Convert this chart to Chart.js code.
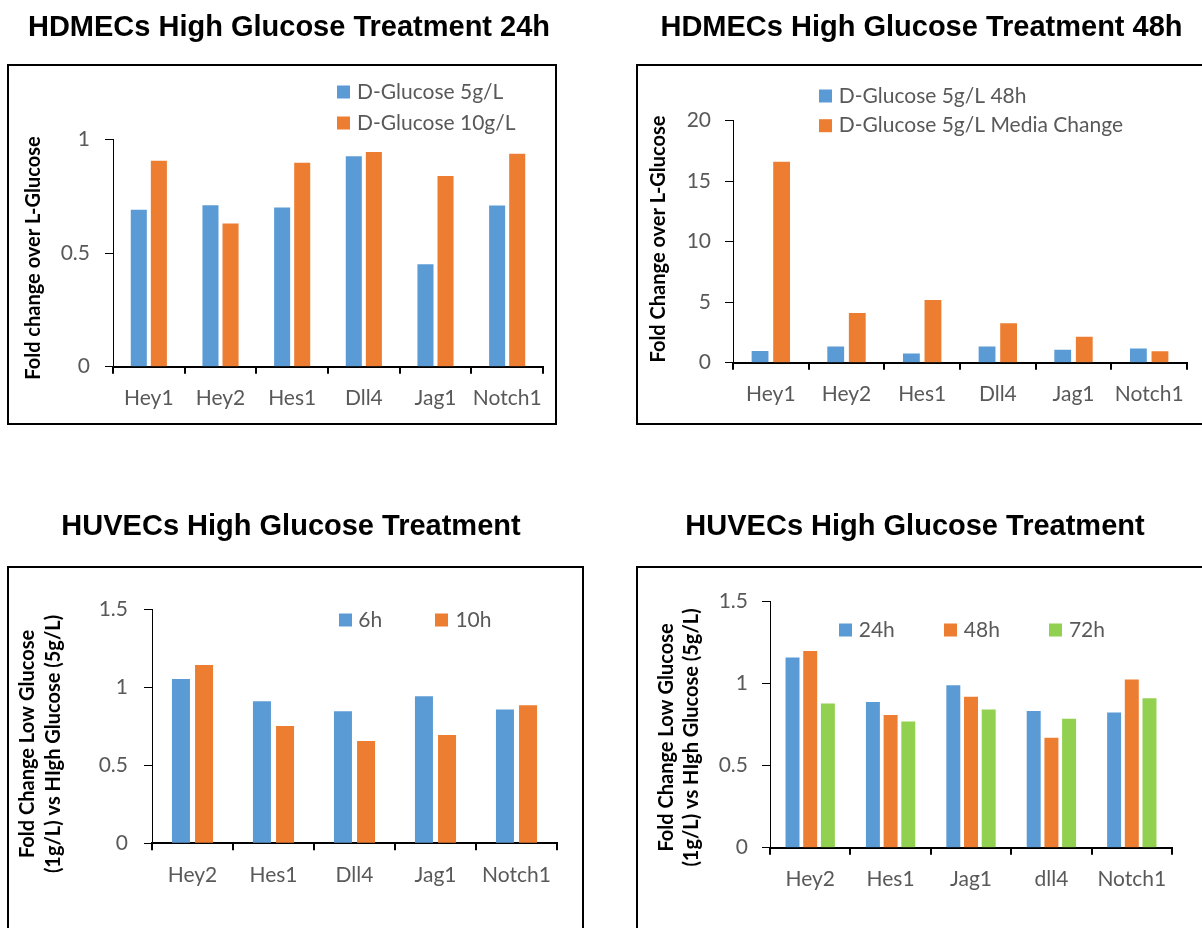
<!DOCTYPE html>
<html>
<head>
<meta charset="utf-8">
<script src="https://cdn.jsdelivr.net/npm/chart.js@4.4.1/dist/chart.umd.min.js"></script>
<style>
  html, body { margin: 0; padding: 0; background: #fff; }
  body { width: 1202px; height: 928px; position: relative; overflow: hidden; }
  canvas { position: absolute; }
</style>
</head>
<body>
<canvas id="hdmec24" width="601" height="464" style="left:0;top:0"></canvas>
<canvas id="hdmec48" width="601" height="464" style="left:601px;top:0"></canvas>
<canvas id="huvecShort" width="601" height="464" style="left:0;top:464px"></canvas>
<canvas id="huvecLong" width="601" height="464" style="left:601px;top:464px"></canvas>
<script>
// ---- data ----
const hdmecGenes = ['Hey1', 'Hey2', 'Hes1', 'Dll4', 'Jag1', 'Notch1'];
const hdmec24Glucose5 = [0.69, 0.71, 0.70, 0.926, 0.451, 0.709];
const hdmec24Glucose10 = [0.906, 0.63, 0.897, 0.944, 0.839, 0.937];
const hdmec24Ticks = [0, 0.5, 1];
const hdmec24TickLabels = ['0', '0.5', '1'];

const hdmec48Glucose5 = [0.97, 1.33, 0.77, 1.33, 1.06, 1.17];
const hdmec48MediaChange = [16.6, 4.11, 5.19, 3.26, 2.15, 0.95];
const hdmec48Ticks = [0, 5, 10, 15, 20];
const hdmec48TickLabels = ['0', '5', '10', '15', '20'];

const huvecShortGenes = ['Hey2', 'Hes1', 'Dll4', 'Jag1', 'Notch1'];
const huvec6h = [1.053, 0.910, 0.846, 0.942, 0.857];
const huvec10h = [1.143, 0.752, 0.656, 0.694, 0.885];

const huvecLongGenes = ['Hey2', 'Hes1', 'Jag1', 'dll4', 'Notch1'];
const huvec24h = [1.16, 0.888, 0.990, 0.833, 0.825];
const huvec48h = [1.20, 0.809, 0.921, 0.670, 1.026];
const huvec72h = [0.880, 0.770, 0.843, 0.786, 0.912];
const huvecTicks = [0, 0.5, 1, 1.5];
const huvecTickLabels = ['0', '0.5', '1', '1.5'];

// ---- styling ----
const BLUE = '#5B9BD5';
const ORANGE = '#ED7D31';
const GREEN = '#92D050';
const TICK_TEXT = '#595959';
const LABEL_FONT = 'Lato, "Open Sans", sans-serif';
const LABEL_SIZE = 21;

// Frame, heading, rotated axis title and legend for each panel
const panelDecor = {
  id: 'panelDecor',
  afterDraw(chart, args, o) {
    const ctx = chart.ctx;
    ctx.save();
    ctx.strokeStyle = '#000';
    ctx.lineWidth = 2;
    ctx.strokeRect(o.frame[0], o.frame[1], o.frame[2], o.frame[3]);

    ctx.fillStyle = '#000';
    ctx.font = 'bold 29px "Liberation Sans", Arial, sans-serif';
    ctx.textAlign = 'center';
    ctx.textBaseline = 'alphabetic';
    ctx.fillText(o.heading, o.headingPos[0], o.headingPos[1]);

    ctx.save();
    ctx.translate(o.axisTitlePos[0], o.axisTitlePos[1]);
    ctx.rotate(-Math.PI / 2);
    ctx.font = 'bold 20px ' + LABEL_FONT;
    ctx.textBaseline = 'middle';
    const n = o.axisTitle.length;
    o.axisTitle.forEach((line, i) => {
      ctx.fillText(line, 0, (i - (n - 1) / 2) * o.axisTitleGap);
    });
    ctx.restore();

    ctx.font = LABEL_SIZE + 'px ' + LABEL_FONT;
    ctx.textAlign = 'left';
    ctx.textBaseline = 'middle';
    chart.data.datasets.forEach((ds, i) => {
      const [x, y, tx] = o.legend[i];
      ctx.fillStyle = ds.backgroundColor;
      ctx.fillRect(x, y - 6.5, 13, 13);
      ctx.fillStyle = TICK_TEXT;
      ctx.fillText(ds.label, tx, y);
    });
    ctx.restore();
  }
};

function buildPanel(id, p) {
  const top = p.ticks[p.ticks.length - 1];
  return new Chart(document.getElementById(id), {
    type: 'bar',
    data: {
      labels: p.labels,
      datasets: p.series.map(s => ({
        label: s.label,
        data: s.data,
        backgroundColor: s.color,
        categoryPercentage: p.catPct,
        barPercentage: p.barPct
      }))
    },
    options: {
      responsive: false,
      animation: false,
      devicePixelRatio: 1,
      layout: { padding: { left: 0, top: p.area.top, right: 601 - p.area.right, bottom: 0 } },
      plugins: {
        legend: { display: false },
        tooltip: { enabled: false },
        panelDecor: p.decor
      },
      scales: {
        x: {
          grid: { drawOnChartArea: false, drawTicks: true, tickLength: 7, color: '#000', lineWidth: 2, offset: true },
          border: { display: true, color: '#000', width: 2 },
          ticks: { color: TICK_TEXT, font: { family: LABEL_FONT, size: LABEL_SIZE }, padding: 12, maxRotation: 0, autoSkip: false },
          afterFit(s) { s.height = 464 - p.area.bottom; }
        },
        y: {
          min: 0,
          max: top,
          afterBuildTicks(s) { s.ticks = p.ticks.map(v => ({ value: v })); },
          grid: { drawOnChartArea: false, drawTicks: true, tickLength: 8, color: '#000', lineWidth: 1 },
          border: { display: true, color: '#000', width: 1 },
          ticks: {
            color: TICK_TEXT,
            font: { family: LABEL_FONT, size: LABEL_SIZE },
            padding: p.tickPad,
            callback: (value, index) => p.tickLabels[index]
          },
          afterFit(s) { s.width = p.area.left; }
        }
      }
    },
    plugins: [panelDecor]
  });
}

function drawAll() {
  buildPanel('hdmec24', {
    labels: hdmecGenes,
    series: [
      { label: 'D-Glucose 5g/L', data: hdmec24Glucose5, color: BLUE },
      { label: 'D-Glucose 10g/L', data: hdmec24Glucose10, color: ORANGE }
    ],
    ticks: hdmec24Ticks,
    tickLabels: hdmec24TickLabels,
    catPct: 0.56, barPct: 0.8,
    area: { left: 113, right: 543, top: 139.3, bottom: 366.7 },
    tickPad: 15,
    decor: {
      frame: [8, 65, 548, 359],
      heading: 'HDMECs High Glucose Treatment 24h',
      headingPos: [289, 36],
      axisTitle: ['Fold change over L-Glucose'],
      axisTitlePos: [34, 258],
      axisTitleGap: 25,
      legend: [[337, 92, 357], [337, 123, 357]]
    }
  });

  buildPanel('hdmec48', {
    labels: hdmecGenes,
    series: [
      { label: 'D-Glucose 5g/L 48h', data: hdmec48Glucose5, color: BLUE },
      { label: 'D-Glucose 5g/L Media Change', data: hdmec48MediaChange, color: ORANGE }
    ],
    ticks: hdmec48Ticks,
    tickLabels: hdmec48TickLabels,
    catPct: 0.57, barPct: 0.78,
    area: { left: 132, right: 586, top: 120.7, bottom: 362.7 },
    tickPad: 14,
    decor: {
      frame: [36, 65, 600, 359],
      heading: 'HDMECs High Glucose Treatment 48h',
      headingPos: [320.5, 36],
      axisTitle: ['Fold Change over L-Glucose'],
      axisTitlePos: [58, 239],
      axisTitleGap: 25,
      legend: [[218, 96, 237.7], [218, 125.7, 237.7]]
    }
  });

  buildPanel('huvecShort', {
    labels: huvecShortGenes,
    series: [
      { label: '6h', data: huvec6h, color: BLUE },
      { label: '10h', data: huvec10h, color: ORANGE }
    ],
    ticks: huvecTicks,
    tickLabels: huvecTickLabels,
    catPct: 0.57, barPct: 0.78,
    area: { left: 152, right: 557, top: 145.3, bottom: 379.3 },
    tickPad: 16,
    decor: {
      frame: [8, 103, 575, 380],
      heading: 'HUVECs High Glucose Treatment',
      headingPos: [291, 71],
      axisTitle: ['Fold Change Low Glucose', '(1g/L) vs HIgh Glucose (5g/L)'],
      axisTitlePos: [40.8, 280],
      axisTitleGap: 26,
      legend: [[339, 156, 358.3], [435, 156, 455.4]]
    }
  });

  buildPanel('huvecLong', {
    labels: huvecLongGenes,
    series: [
      { label: '24h', data: huvec24h, color: BLUE },
      { label: '48h', data: huvec48h, color: ORANGE },
      { label: '72h', data: huvec72h, color: GREEN }
    ],
    ticks: huvecTicks,
    tickLabels: huvecTickLabels,
    catPct: 0.66, barPct: 0.79,
    area: { left: 169, right: 571, top: 137.7, bottom: 383.7 },
    tickPad: 14,
    decor: {
      frame: [36, 103, 600, 380],
      heading: 'HUVECs High Glucose Treatment',
      headingPos: [314, 71],
      axisTitle: ['Fold Change Low Glucose', '(1g/L) vs HIgh Glucose (5g/L)'],
      axisTitlePos: [78.5, 273.5],
      axisTitleGap: 25,
      legend: [[238, 166, 257.7], [343, 166, 362.8], [448, 166, 467.9]]
    }
  });
}

Promise.all([
  document.fonts.load('21px Lato'),
  document.fonts.load('bold 20px Lato'),
  document.fonts.load('bold 29px "Liberation Sans"')
]).then(drawAll, drawAll);
</script>
</body>
</html>
